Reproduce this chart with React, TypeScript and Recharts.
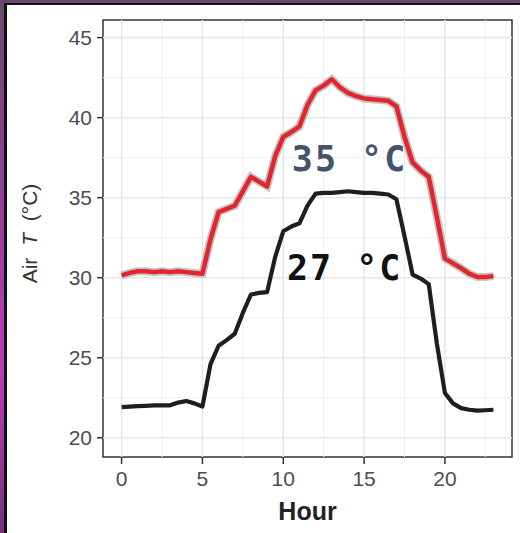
import React from 'react';
import { LineChart, Line, XAxis, YAxis, ReferenceLine, ReferenceArea, ReferenceDot } from 'recharts';

// half-hourly air temperature
const hours = [
  0, 0.5, 1, 1.5, 2, 2.5, 3, 3.5, 4, 4.5, 5, 5.5, 6, 6.5, 7, 7.5, 8, 8.5, 9, 9.5, 10, 10.5, 11, 11.5,
  12, 12.5, 13, 13.5, 14, 14.5, 15, 15.5, 16, 16.5, 17, 17.5, 18, 18.5, 19, 19.5, 20, 20.5, 21, 21.5,
  22, 22.5, 23,
];

const hot = [
  30.15, 30.3, 30.4, 30.4, 30.35, 30.4, 30.35, 30.4, 30.35, 30.3, 30.25, 32.4, 34.1, 34.3, 34.5, 35.4,
  36.3, 36.0, 35.7, 37.6, 38.8, 39.1, 39.45, 40.8, 41.7, 42.0, 42.4, 41.9, 41.55, 41.35, 41.2, 41.15,
  41.1, 41.05, 40.7, 38.8, 37.2, 36.7, 36.3, 33.8, 31.2, 30.9, 30.6, 30.25, 30.05, 30.05, 30.1,
];

const mild = [
  21.92, 21.95, 21.98, 22.0, 22.02, 22.03, 22.03, 22.2, 22.3, 22.15, 21.95, 24.6, 25.75, 26.1, 26.5, 27.8,
  28.95, 29.05, 29.1, 31.3, 32.9, 33.2, 33.4, 34.5, 35.25, 35.3, 35.3, 35.35, 35.4, 35.35, 35.3, 35.3,
  35.25, 35.2, 34.9, 32.6, 30.2, 29.95, 29.6, 25.9, 22.8, 22.15, 21.85, 21.75, 21.7, 21.72, 21.75,
];

const xTicks = [0, 5, 10, 15, 20];
const xMinor = [2.5, 7.5, 12.5, 17.5, 22.5];
const yTicks = [20, 25, 30, 35, 40, 45];
const yMinor = [22.5, 27.5, 32.5, 37.5, 42.5];

const labels = [
  { text: '35 °C', hour: 14.1, temp: 37.5, color: '#43536d' },
  { text: '27 °C', hour: 13.8, temp: 30.7, color: '#111111' },
];

const data = hours.map((h, i) => ({ hour: h, hot: hot[i], mild: mild[i] }));

const tickStyle = { fill: '#4d4d4d', fontSize: 21, fontFamily: 'Liberation Sans, Arial, sans-serif' };

const XTitle = (props: any) => {
  const { x, y, width } = props.viewBox;
  return (
    <text x={x + width / 2} y={y + 63} textAnchor="middle" fill="#222" fontSize={25} fontWeight="bold"
      fontFamily="Liberation Sans, Arial, sans-serif">
      Hour
    </text>
  );
};

const YTitle = (props: any) => {
  const { y, height } = props.viewBox;
  const cx = 37;
  const cy = y + height / 2 - 5;
  return (
    <text x={cx} y={cy} transform={`rotate(-90, ${cx}, ${cy})`} textAnchor="middle" fill="#333"
      fontSize={21} fontFamily="Liberation Sans, Arial, sans-serif" style={{ wordSpacing: 6 }}>
      Air <tspan fontStyle="italic">T</tspan> (°C)
    </text>
  );
};

const Tag = (text: string, color: string) => (props: any) => {
  const { x, y, width, height } = props.viewBox;
  return (
    <text x={x + (width || 0) / 2} y={y + (height || 0) / 2 + 13} textAnchor="middle" fill={color}
      fontSize={35} fontWeight="bold" fontFamily="DejaVu Sans Mono, monospace" style={{ letterSpacing: 2 }}>
      {text}
    </text>
  );
};

export default function App() {
  return (
    <div style={{ position: 'absolute', left: 0, top: 0, width: 520, height: 533, overflow: 'hidden',
      background: 'linear-gradient(180deg, #6b4a6e 0%, #9a3c9c 40%, #b73fb8 70%, #7a2f7c 100%)' }}>
      <div style={{ position: 'absolute', left: 4, top: 3, width: 516, height: 530, boxSizing: 'border-box',
        background: '#fff', borderLeft: '3px solid #111', borderTop: '2px solid #111' }} />
      <div style={{ position: 'absolute', left: 0, top: 0 }}>
        <LineChart width={520} height={533} data={data} margin={{ top: 20, right: 8, bottom: 0, left: 0 }}>
          <XAxis dataKey="hour" type="number" domain={[-1.15, 24.15]} ticks={xTicks} allowDataOverflow
            axisLine={false} tickLine={{ stroke: '#333', strokeWidth: 1.5 }} tickSize={7} tickMargin={7}
            tick={tickStyle} height={76} label={<XTitle />} />
          <YAxis type="number" domain={[18.8, 46.1]} ticks={yTicks} allowDataOverflow
            axisLine={false} tickLine={{ stroke: '#333', strokeWidth: 1.5 }} tickSize={6} tickMargin={5}
            tick={tickStyle} width={103} label={<YTitle />} />
          {yMinor.map((v) => (
            <ReferenceLine key={'ym' + v} y={v} stroke="#f0f0f0" strokeWidth={1} />
          ))}
          {xMinor.map((v) => (
            <ReferenceLine key={'xm' + v} x={v} stroke="#f0f0f0" strokeWidth={1} />
          ))}
          {yTicks.map((v) => (
            <ReferenceLine key={'y' + v} y={v} stroke="#e6e6e6" strokeWidth={1.5} />
          ))}
          {xTicks.map((v) => (
            <ReferenceLine key={'x' + v} x={v} stroke="#e6e6e6" strokeWidth={1.5} />
          ))}
          <ReferenceArea x1={-1.15} x2={24.15} y1={18.8} y2={46.1} fill="none" stroke="#333" strokeWidth={1.5} />
          <Line dataKey="hot" type="linear" stroke="#c4c4c4" strokeWidth={8} dot={false} isAnimationActive={false} />
          <Line dataKey="hot" type="linear" stroke="#e3262d" strokeWidth={4.5} dot={false} strokeLinejoin="round" isAnimationActive={false} />
          <Line dataKey="mild" type="linear" stroke="#1e1e1e" strokeWidth={4.2} dot={false} strokeLinejoin="round" isAnimationActive={false} />
          {labels.map((l) => (
            <ReferenceDot key={l.text} x={l.hour} y={l.temp} r={0} fill="none" stroke="none" label={Tag(l.text, l.color)} />
          ))}
        </LineChart>
      </div>
    </div>
  );
}
